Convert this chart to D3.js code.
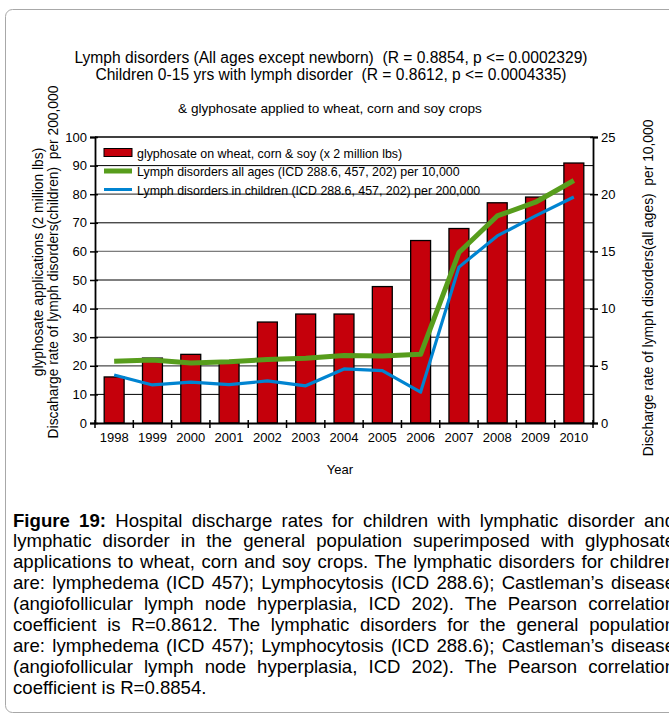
<!DOCTYPE html>
<html><head><meta charset="utf-8">
<script src="https://cdn.jsdelivr.net/npm/d3@7"></script>
<style>
html,body{margin:0;padding:0;background:#fff;}
svg{display:block;}
text{font-family:"Liberation Sans",Arial,sans-serif;white-space:pre;}
</style></head>
<body>
<svg id="c" width="669" height="714"></svg>
<script>
const years = ["1998","1999","2000","2001","2002","2003","2004","2005","2006","2007","2008","2009","2010"];
const glyphosate = [16.1, 22.7, 24.0, 21.0, 35.3, 38.1, 38.1, 47.7, 63.8, 68.0, 77.0, 79.0, 90.9];
const lymphAllAges = [5.4, 5.5, 5.25, 5.35, 5.55, 5.65, 5.9, 5.85, 6.0, 14.9, 18.1, 19.3, 21.2];
const lymphChildren = [16.8, 13.3, 14.3, 13.4, 14.7, 13.0, 18.9, 18.3, 10.8, 54.5, 65.4, 72.4, 79.0];
const leftTicks = [0,10,20,30,40,50,60,70,80,90,100];
const rightTicks = [0,5,10,15,20,25];
const titleLines = ["Lymph disorders (All ages except newborn)  (R = 0.8854, p <= 0.0002329)",
                    "Children 0-15 yrs with lymph disorder  (R = 0.8612, p <= 0.0004335)"];
const subTitle = "& glyphosate applied to wheat, corn and soy crops";
const legendLabels = ["glyphosate on wheat, corn & soy (x 2 million lbs)",
                      "Lymph disorders all ages (ICD 288.6, 457, 202) per 10,000",
                      "Lymph disorders in children (ICD 288.6, 457, 202) per 200,000"];
const leftLabel = ["glyphosate applications (2 million lbs)",
                   "Discaharge rate of lymph disorders(children)  per 200,000"];
const rightLabel = "Discharge rate of lymph disorders(all ages)  per 10,000";
const xLabel = "Year";
const captionLines = [
 ["Figure 19:", " Hospital discharge rates for children with lymphatic disorder and"],
 ["", "lymphatic disorder in the general population superimposed with glyphosate"],
 ["", "applications to wheat, corn and soy crops. The lymphatic disorders for children"],
 ["", "are: lymphedema (ICD 457); Lymphocytosis (ICD 288.6); Castleman\u2019s disease"],
 ["", "(angiofollicular lymph node hyperplasia, ICD 202). The Pearson correlation"],
 ["", "coefficient is R=0.8612. The lymphatic disorders for the general population"],
 ["", "are: lymphedema (ICD 457); Lymphocytosis (ICD 288.6); Castleman\u2019s disease"],
 ["", "(angiofollicular lymph node hyperplasia, ICD 202). The Pearson correlation"],
 ["", "coefficient is R=0.8854."]
];

const RED="#c5000b", GREEN="#579d1c", BLUE="#0084d1";
const svg = d3.select("#c");
svg.append("rect").attr("width",669).attr("height",714).attr("fill","#fff");
// frame
svg.append("rect").attr("x",5.5).attr("y",9.5).attr("width",720).attr("height",703)
  .attr("rx",7).attr("fill","none").attr("stroke","#a8a8a8").attr("stroke-width",1);

const L=95, R=593, T=137, B=423;
const x = d3.scaleBand().domain(years).range([L,R]).padding(0);
const yL = d3.scaleLinear().domain([0,100]).range([B,T]);
const yR = d3.scaleLinear().domain([0,25]).range([B,T]);
const cx = d => x(d)+x.bandwidth()/2;

// grid left (black)
svg.append("g").selectAll("line").data(leftTicks.filter(v=>v>0 && v<100)).join("line")
  .attr("x1",L).attr("x2",R).attr("y1",d=>yL(d)).attr("y2",d=>yL(d))
  .attr("stroke","#000").attr("stroke-width",1);
// grid right (gray)
svg.append("g").selectAll("line").data(rightTicks.filter(v=>v>0 && v<25)).join("line")
  .attr("x1",L).attr("x2",R).attr("y1",d=>yR(d)).attr("y2",d=>yR(d))
  .attr("stroke","#8a8a8a").attr("stroke-width",1);
// top border
svg.append("line").attr("x1",L).attr("x2",R).attr("y1",T).attr("y2",T).attr("stroke","#000").attr("stroke-width",1.5);

// bars
const bw = x.bandwidth()*0.52;
svg.append("g").selectAll("rect").data(years).join("rect")
  .attr("x",(d)=>cx(d)-bw/2).attr("width",bw)
  .attr("y",(d,i)=>yL(glyphosate[i])).attr("height",(d,i)=>B-yL(glyphosate[i]))
  .attr("fill",RED).attr("stroke","#000").attr("stroke-width",1.3);

// lines
const lineL = d3.line().x((d,i)=>cx(years[i])).y(d=>yL(d));
const lineR = d3.line().x((d,i)=>cx(years[i])).y(d=>yR(d));
svg.append("path").attr("d",lineL(lymphChildren)).attr("fill","none").attr("stroke",BLUE).attr("stroke-width",3.2).attr("stroke-linejoin","round");
svg.append("path").attr("d",lineR(lymphAllAges)).attr("fill","none").attr("stroke",GREEN).attr("stroke-width",5).attr("stroke-linejoin","round");

// axes
const fs = "13px";
const axL = svg.append("g").attr("transform",`translate(${L},0)`)
  .call(d3.axisLeft(yL).tickValues(leftTicks).tickSize(5).tickPadding(3));
const axR = svg.append("g").attr("transform",`translate(${R},0)`)
  .call(d3.axisRight(yR).tickValues(rightTicks).tickSize(5).tickPadding(3));
const axB = svg.append("g").attr("transform",`translate(0,${B})`)
  .call(d3.axisBottom(x).tickSize(0).tickPadding(10));
[axL,axR,axB].forEach(a=>{
  a.select(".domain").attr("stroke","#000").attr("stroke-width",1.8);
  a.selectAll("text").attr("font-family","Liberation Sans, Arial, sans-serif").attr("font-size",fs).attr("fill","#000");
  a.selectAll(".tick line").attr("stroke","#000").attr("stroke-width",1.5);
});
axL.selectAll(".tick line").attr("x1",3);
axR.selectAll(".tick line").attr("x1",-3);
// x boundary ticks
const bounds = years.map(d=>x(d)).concat([R]);
svg.append("g").selectAll("line").data(bounds).join("line")
  .attr("x1",d=>d).attr("x2",d=>d).attr("y1",B-3).attr("y2",B+5)
  .attr("stroke","#000").attr("stroke-width",1.5);

// titles
svg.append("g").selectAll("text").data(titleLines).join("text")
  .attr("x",331).attr("y",(d,i)=>62.5+i*17).attr("text-anchor","middle")
  .attr("font-size","15.6px").text(d=>d);
svg.append("text").attr("x",330).attr("y",112.5).attr("text-anchor","middle").attr("font-size","13.6px").text(subTitle);

// axis labels
leftLabel.forEach((t,i)=>{
  svg.append("text").attr("transform",`translate(${43+i*15},262) rotate(-90)`)
    .attr("text-anchor","middle").attr("font-size","13.8px").text(t);
});
svg.append("text").attr("transform",`translate(653,288) rotate(-90)`)
  .attr("text-anchor","middle").attr("font-size","13.8px").text(rightLabel);
svg.append("text").attr("x",340).attr("y",474).attr("text-anchor","middle").attr("font-size","13px").text(xLabel);

// legend
const lg = svg.append("g");
lg.append("rect").attr("x",104).attr("y",148.5).attr("width",28).attr("height",8)
  .attr("fill",RED).attr("stroke","#000").attr("stroke-width",1);
lg.append("line").attr("x1",104).attr("x2",132).attr("y1",171).attr("y2",171).attr("stroke",GREEN).attr("stroke-width",5);
lg.append("line").attr("x1",104).attr("x2",132).attr("y1",189.5).attr("y2",189.5).attr("stroke",BLUE).attr("stroke-width",3);
lg.selectAll("text").data(legendLabels).join("text")
  .attr("x",137).attr("y",(d,i)=>157.5+i*18.5).attr("font-size","12.4px").text(d=>d);

// caption (justified)
const capX=13, capW=662, capFs=18.6;
captionLines.forEach((ln,i)=>{
  const t = svg.append("text").attr("x",capX).attr("y",526.5+i*20.9).attr("font-size",capFs+"px").attr("fill","#000");
  if(ln[0]) t.append("tspan").attr("font-weight","bold").text(ln[0]);
  t.append("tspan").text(ln[1]);
  if(i<captionLines.length-1){
    const w = t.node().getComputedTextLength();
    const full = ln[0]+ln[1];
    const n = (full.match(/ /g)||[]).length;
    t.attr("word-spacing", (capW-w)/n);
  }
});
</script>
</body></html>
